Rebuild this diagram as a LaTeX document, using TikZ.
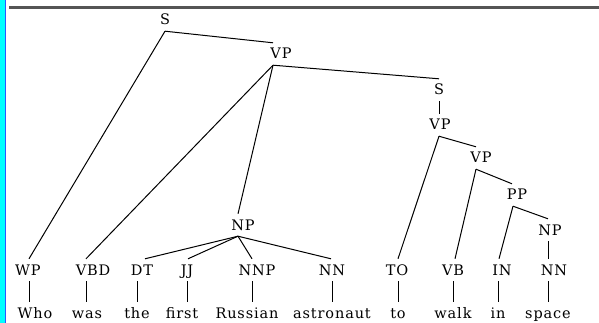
\documentclass[tikz,border=0pt]{standalone}
\usepackage{fontspec}
\newfontfamily\treefont[LetterSpace=6]{DejaVu Serif}
\definecolor{stripecyan}{RGB}{0,255,255}
\definecolor{stripeblue}{RGB}{40,90,255}
\definecolor{rulegray}{RGB}{85,85,85}
\tikzset{
  tnode/.style={anchor=base, inner xsep=0pt, inner ysep=6pt,
    text height=10pt, text depth=0pt,
    font=\treefont\fontsize{14.5}{17}\selectfont},
  branch/.style={line width=1pt, black},
}
\begin{document}
\begin{tikzpicture}[x=1pt,y=-1pt]
\useasboundingbox (0,0) rectangle (599,323);
\fill[white] (0,0) rectangle (599,323);
% side stripe and top rule
\fill[stripecyan] (0,0) rectangle (5,323);
\fill[stripeblue] (5,0) rectangle (6.3,323);
\draw[rulegray, line width=2.2pt] (9,7.5) -- (599,7.5);

% phrase nodes
\node[tnode] (s1)  at (165,25)  {S};
\node[tnode] (vp1) at (281,59)  {VP};
\node[tnode] (s2)  at (439,95)  {S};
\node[tnode] (vp2) at (440,130) {VP};
\node[tnode] (vp3) at (481,163) {VP};
\node[tnode] (pp)  at (517,200) {PP};
\node[tnode] (np2) at (550,235) {NP};
\node[tnode] (np1) at (243,230) {NP};

% part-of-speech tags
\node[tnode] (wp)  at (28,275)  {WP};
\node[tnode] (vbd) at (93,275)  {VBD};
\node[tnode] (dt)  at (142,275) {DT};
\node[tnode] (jj)  at (187,275) {JJ};
\node[tnode] (nnp) at (257,275) {NNP};
\node[tnode] (nn1) at (332,275) {NN};
\node[tnode] (to)  at (397,275) {TO};
\node[tnode] (vb)  at (453,275) {VB};
\node[tnode] (in)  at (502,275) {IN};
\node[tnode] (nn2) at (554,275) {NN};

% words
\node[tnode] (w1)  at (35,318)  {Who};
\node[tnode] (w2)  at (87,318)  {was};
\node[tnode] (w3)  at (137,318) {the};
\node[tnode] (w4)  at (182,318) {first};
\node[tnode] (w5)  at (247,318) {Russian};
\node[tnode] (w6)  at (332,318) {astronaut};
\node[tnode] (w7)  at (398,318) {to};
\node[tnode] (w8)  at (453,318) {walk};
\node[tnode] (w9)  at (498,318) {in};
\node[tnode] (w10) at (548,318) {space};

% tree branches
\begin{scope}[branch]
\draw (s1.south) -- ([xshift=1pt]wp.north);
\draw (s1.south) -- ([xshift=-8pt]vp1.north);
\draw ([xshift=-8pt]vp1.south) -- ([xshift=-7pt]vbd.north);
\draw ([xshift=-8pt]vp1.south) -- ([xshift=-5pt]np1.north);
\draw ([xshift=-8pt]vp1.south) -- (s2.north);
\draw (s2.south) -- ([xshift=-1pt]vp2.north);
\draw ([xshift=-1pt]vp2.south) -- ([xshift=1pt]to.north);
\draw ([xshift=-1pt]vp2.south) -- ([xshift=-5pt]vp3.north);
\draw ([xshift=-5pt]vp3.south) -- ([xshift=2pt]vb.north);
\draw ([xshift=-5pt]vp3.south) -- ([xshift=-5pt]pp.north);
\draw ([xshift=-4pt]pp.south) -- ([xshift=-3pt]in.north);
\draw ([xshift=-4pt]pp.south) -- ([xshift=-2pt]np2.north);
\draw ([xshift=-2pt]np2.south) -- ([xshift=-6pt]nn2.north);
\draw ([xshift=-5pt]np1.south) -- ([xshift=3pt]dt.north);
\draw ([xshift=-5pt]np1.south) -- ([xshift=1pt]jj.north);
\draw ([xshift=-5pt]np1.south) -- ([xshift=-5pt]nnp.north);
\draw ([xshift=-5pt]np1.south) -- ([xshift=-1pt]nn1.north);

% tag-to-word stems
\draw ([xshift=1pt]wp.south)  -- ([xshift=1pt]wp.south |- w1.north);
\draw ([xshift=-7pt]vbd.south) -- ([xshift=-7pt]vbd.south |- w2.north);
\draw ([xshift=-5pt]dt.south) -- ([xshift=-5pt]dt.south |- w3.north);
\draw (jj.south) -- (jj.south |- w4.north);
\draw ([xshift=-5pt]nnp.south) -- ([xshift=-5pt]nnp.south |- w5.north);
\draw (nn1.south) -- (nn1.south |- w6.north);
\draw ([xshift=1pt]to.south) -- ([xshift=1pt]to.south |- w7.north);
\draw (vb.south) -- (vb.south |- w8.north);
\draw ([xshift=-4pt]in.south) -- ([xshift=-4pt]in.south |- w9.north);
\draw ([xshift=-6pt]nn2.south) -- ([xshift=-6pt]nn2.south |- w10.north);
\end{scope}
\end{tikzpicture}
\end{document}
